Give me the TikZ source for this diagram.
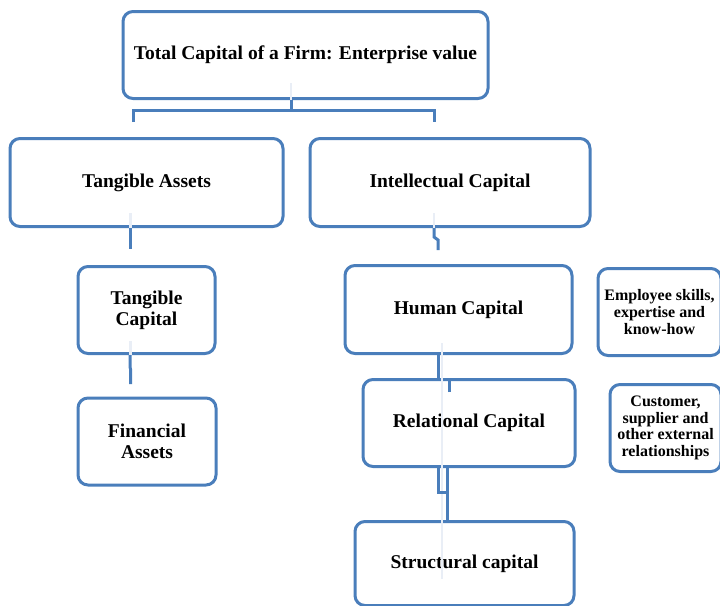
\documentclass[tikz,border=0pt]{standalone}
\usepackage{fontspec}
\setmainfont{Liberation Serif}
\usetikzlibrary{calc}
\definecolor{boxblue}{HTML}{4A7EBB}
\definecolor{ghost}{HTML}{E9EEF6}
\tikzset{
  box/.style={draw=boxblue, line width=3pt, rounded corners=10pt, fill=white,
    align=center, inner sep=0pt, text=black,
    font=\bfseries\fontsize{19.5}{21}\selectfont},
  smallbox/.style={box, font=\bfseries\fontsize{16}{16.8}\selectfont},
  conn/.style={draw=boxblue, line width=3pt},
  ghostline/.style={draw=ghost, line width=2.5pt}
}
\begin{document}
\begin{tikzpicture}[x=1pt,y=-1pt]
\useasboundingbox (0,0) rectangle (720,605);
% boxes
\node[box, minimum width=365pt, minimum height=87pt] (top) at (305.5,55) {Total Capital of a Firm: Enterprise value};
\node[box, minimum width=273pt, minimum height=88pt] (ta) at (146.5,182.5) {Tangible Assets};
\node[box, minimum width=280pt, minimum height=88pt] (ic) at (450,182.5) {Intellectual Capital};
\node[box, minimum width=137pt, minimum height=87pt] (tc) at (146.5,310) {Tangible\\Capital};
\node[box, minimum width=138pt, minimum height=87pt] (fa) at (147,441.5) {Financial\\Assets};
\node[box, minimum width=227pt, minimum height=88pt] (hc) at (458.5,309.5) {Human Capital};
\node[smallbox, minimum width=123pt, minimum height=87pt] (es) at (659.5,312) {Employee skills,\\expertise and\\know-how};
\node[box, minimum width=212pt, minimum height=87pt] (rc) at (469,423) {Relational Capital};
\node[smallbox, minimum width=111pt, minimum height=87pt] (cs) at (665.5,428) {Customer,\\supplier and\\other external\\relationships};
\node[box, minimum width=219pt, minimum height=84pt] (sc) at (464.5,563.5) {Structural capital};
% named free ends
\coordinate (j1) at (133,122);
\coordinate (j2) at (434,122);
% faint guide lines
\draw[ghostline] ([xshift=-14.5pt,yshift=17pt]top.south) -- ([xshift=-14.5pt]top.south);
\draw[ghostline] ([xshift=-16pt,yshift=15pt]ta.south) -- ([xshift=-16pt]ta.south);
\draw[ghostline] ([xshift=-16pt,yshift=15pt]ic.south) -- ([xshift=-16pt]ic.south);
\draw[ghostline] ([xshift=-16pt,yshift=14pt]tc.south) -- ([xshift=-16pt]tc.south);
\draw[ghostline] ([xshift=-16.5pt,yshift=12pt]hc.south) -- ([xshift=-22.5pt,yshift=28pt]sc.south);
% connectors
\draw[conn] ([xshift=-14.5pt]top.south) -- ++(0,12);
\draw[conn] (j1) -- ++(0,-12) -- ++(301,0) -- ++(0,12);
\draw[conn] ([xshift=-16pt]ta.south) -- ++(0,21);
\draw[conn] ([xshift=-16pt]ic.south) -- ++(0,9) -- ++(4,3) -- ++(0,10);
\draw[conn] ([xshift=-16.5pt]tc.south) -- ++(0,12) -- ++(0.5,2) -- ++(0,15);
\draw[conn] ([xshift=-20.5pt]hc.south) -- ([xshift=-31pt]rc.north);
\draw[conn] ([xshift=-20pt,yshift=-14pt]rc.north) -- ([xshift=-20pt]rc.north);
\draw[conn] ([xshift=-31pt]rc.south) -- ++(0,24) -- ++(9,0);
\draw[conn] ([xshift=-22pt]rc.south) -- ([xshift=-17.5pt]sc.north);
\end{tikzpicture}
\end{document}
